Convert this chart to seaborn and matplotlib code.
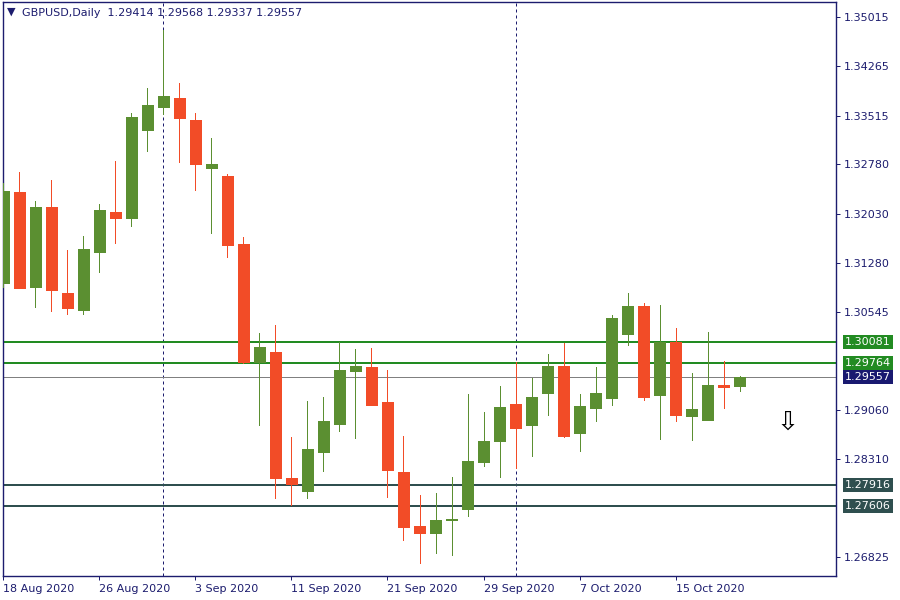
import matplotlib
matplotlib.use("Agg")
import matplotlib.pyplot as plt
import seaborn as sns
import numpy as np
import pandas as pd

# ---------------- data ----------------
symbol = "GBPUSD,Daily"
dates = pd.bdate_range("2020-08-18", "2020-10-21")

opens = [1.30985, 1.32361, 1.30924, 1.32133, 1.30829, 1.30576, 1.31455, 1.32057, 1.31971, 1.33306,
         1.33655, 1.33786, 1.33453, 1.32729, 1.32603, 1.31572, 1.29778, 1.29934, 1.28023, 1.27830,
         1.28422, 1.28847, 1.29650, 1.29707, 1.29176, 1.28114, 1.27295, 1.27193, 1.27390, 1.27557,
         1.28270, 1.28589, 1.29145, 1.28831, 1.29317, 1.29722, 1.28710, 1.29089, 1.29241, 1.30212,
         1.30632, 1.29286, 1.30090, 1.28968, 1.28907, 1.29434, 1.29414]
highs = [1.32497, 1.32664, 1.32224, 1.32543, 1.31481, 1.31693, 1.32179, 1.32831, 1.33559, 1.33938,
         1.34818, 1.34014, 1.33559, 1.33180, 1.32634, 1.31678, 1.30222, 1.30344, 1.28645, 1.29191,
         1.29252, 1.30086, 1.29980, 1.29995, 1.29661, 1.28660, 1.27765, 1.27796, 1.28038, 1.29297,
         1.29024, 1.29418, 1.29782, 1.29540, 1.29904, 1.30071, 1.29297, 1.29707, 1.30495, 1.30829,
         1.30677, 1.30647, 1.30298, 1.29616, 1.30237, 1.29798, 1.29568]
lows = [1.30924, 1.30900, 1.30621, 1.30561, 1.30515, 1.30515, 1.31152, 1.31592, 1.31850, 1.32987,
        1.33548, 1.32820, 1.32396, 1.31744, 1.31380, 1.29772, 1.28831, 1.27724, 1.27618, 1.27724,
        1.28134, 1.28740, 1.28634, 1.29130, 1.27739, 1.27087, 1.26738, 1.26890, 1.26860, 1.27451,
        1.28210, 1.28043, 1.28179, 1.28361, 1.28979, 1.28649, 1.28437, 1.28892, 1.29135, 1.30045,
        1.29211, 1.28619, 1.28892, 1.28604, 1.28903, 1.29089, 1.29337]
closes = [1.32376, 1.30909, 1.32133, 1.30879, 1.30606, 1.31496, 1.32088, 1.31971, 1.33498, 1.33680,
          1.33817, 1.33488, 1.32790, 1.32786, 1.31562, 1.29787, 1.30010, 1.28028, 1.27937, 1.28463,
          1.28888, 1.29661, 1.29722, 1.29135, 1.28149, 1.27284, 1.27193, 1.27386, 1.27400, 1.28281,
          1.28584, 1.29100, 1.28786, 1.29252, 1.29722, 1.28665, 1.29115, 1.29312, 1.30450, 1.30632,
          1.29256, 1.30090, 1.28983, 1.29070, 1.29434, 1.29408, 1.29557]

resistance_levels = [1.30081, 1.29764]
support_levels = [1.27916, 1.27606]
bid_price = 1.29557

ytick_values = [1.35015, 1.34265, 1.33515, 1.32780, 1.32030, 1.31280, 1.30545,
                1.29060, 1.28310, 1.26825]
xtick_labels = ["18 Aug 2020", "26 Aug 2020", "3 Sep 2020", "11 Sep 2020",
                "21 Sep 2020", "29 Sep 2020", "7 Oct 2020", "15 Oct 2020"]
xtick_every = 6
arrow_pos = (49, 1.2887)

# ---------------- style ----------------
UP = "#5B8F31"
DOWN = "#F24C27"
NAVY = "#1C1C6E"
LEVEL_GREEN = "#228B22"
LEVEL_SLATE = "#2F4F4F"
BID_GRAY = "#808080"
BID_BOX = "#191970"
PX = 0.72  # one pixel in points at 100 dpi

sns.set_theme(style="white")
plt.rcParams['font.family'] = ['DejaVu Sans']

df = pd.DataFrame({"date": dates, "open": opens, "high": highs,
                   "low": lows, "close": closes})
df["idx"] = np.arange(len(df))
df["up"] = df["close"] >= df["open"]

fig = plt.figure(figsize=(9, 6), dpi=100)
ax = fig.add_axes([3 / 900, 24 / 600, 833 / 900, 574 / 600])
ax.set_facecolor("white")

# period separators (month starts)
month_starts = df.index[df["date"].dt.month != df["date"].dt.month.shift(1)][1:]
for m in month_starts:
    ax.axvline(m, color=NAVY, lw=PX, ls=(0, (3, 3)), zorder=1)

# level lines
for lv in resistance_levels:
    ax.axhline(lv, color=LEVEL_GREEN, lw=2 * PX, zorder=2)
for lv in support_levels:
    ax.axhline(lv, color=LEVEL_SLATE, lw=2 * PX, zorder=2)
ax.axhline(bid_price, color=BID_GRAY, lw=PX, zorder=2)

# candles
colors = np.where(df["up"], UP, DOWN)
ax.vlines(df["idx"], df["low"], df["high"], colors=colors, lw=PX,
          antialiased=False, zorder=3)
body_bottom = np.minimum(df["open"], df["close"])
body_height = np.abs(df["close"] - df["open"])
ax.bar(df["idx"], body_height, bottom=body_bottom, width=0.66, color=colors,
       edgecolor=colors, linewidth=0.7, antialiased=False, zorder=4)

ax.set_xlim(-0.03, 52.03)
ax.set_ylim(1.26537, 1.35243)

# axes frame
for side, sp in ax.spines.items():
    sp.set_color(NAVY)
    sp.set_linewidth(1.0)
    sp.set_visible(True)

ax.yaxis.tick_right()
ax.set_yticks(ytick_values)
ax.set_yticklabels([f"{v:.5f}" for v in ytick_values])
ax.tick_params(axis="y", which="both", right=True, left=False, direction="out",
               length=3, width=PX, color=NAVY, labelcolor=NAVY, labelsize=8, pad=2.5)

xt = df["idx"][::xtick_every][:len(xtick_labels)]
ax.set_xticks(xt)
ax.set_xticklabels(xtick_labels, ha="left")
ax.tick_params(axis="x", bottom=True, direction="out", length=3, width=PX,
               color=NAVY, labelcolor=NAVY, labelsize=8, pad=2.5)
ax.grid(False)

# price label boxes on the right axis
boxes = [(lv, LEVEL_GREEN) for lv in resistance_levels] + \
        [(bid_price, BID_BOX)] + [(lv, LEVEL_SLATE) for lv in support_levels]
for lv, col in boxes:
    ax.text(1 + 9 / 833, lv, f"{lv:.5f}", transform=ax.get_yaxis_transform(),
            ha="left", va="center", fontsize=8, color="white", clip_on=False,
            bbox=dict(boxstyle="square,pad=0.18", fc=col, ec="none"), zorder=6)

# header
last = df.iloc[-1]
fig.text(7 / 900, 1 - 12 / 600, "▼", fontsize=8, color=NAVY, va="center", ha="left")
fig.text(22 / 900, 1 - 13 / 600,
         f"{symbol}  {last['open']:.5f} {last['high']:.5f} {last['low']:.5f} {last['close']:.5f}",
         fontsize=8, color=NAVY, va="center", ha="left")

# sell arrow
ax.text(arrow_pos[0], arrow_pos[1], "⇩", fontsize=19, color="black",
        ha="center", va="center", zorder=5)

fig.savefig("out.png", dpi=100)
